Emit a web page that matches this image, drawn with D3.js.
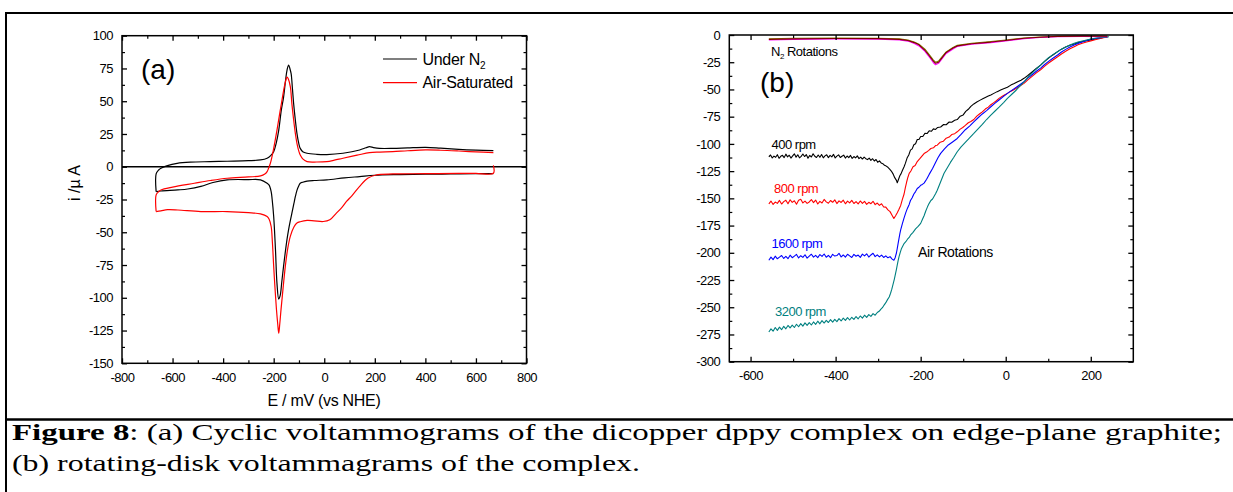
<!DOCTYPE html>
<html>
<head>
<meta charset="utf-8">
<script src="https://cdnjs.cloudflare.com/ajax/libs/d3/7.8.5/d3.min.js"></script>
<style>
  body { margin: 0; background: #fff; }
  svg { display: block; }
  .sans { font-family: "Liberation Sans", Arial, Helvetica, sans-serif; }
</style>
</head>
<body>
<div id="chart"></div>
<script>
// ---- panel (a): cyclic voltammograms, [E mV, i uA] ----
const cvN2Forward = [[-665,-19],[-665,-5.5],[-655,-2.5],[-646,-1.2],[-620,0.9],[-582,2.6],[-530,3.5],[-450,3.9],[-384,4.2],[-300,4.6],[-252,5.2],[-226,6.5],[-212,8.5],[-200,11.5],[-190,18],[-180,28],[-170,43],[-161,53],[-153,66],[-147,74],[-141,77.6],[-136,75],[-131,71],[-126,60],[-121,48],[-114,35],[-108,25.5],[-101,18],[-95,14],[-85,11.5],[-68,10.3],[-30,9.5],[10,9.3],[74,10.3],[140,12.8],[165,14.5],[179,15.3],[195,14.6],[218,14],[271,14],[330,14.4],[401,14.8],[460,14.2],[532,13.3],[600,12.7],[669,12.3]];
const cvN2Reverse = [[669,-5.2],[600,-5.3],[500,-5.5],[400,-5.7],[300,-6],[200,-6.5],[140,-7.5],[80,-8.5],[10,-10],[-40,-10.5],[-68,-11],[-85,-11.8],[-95,-12.6],[-102,-15],[-108,-18],[-114,-22.5],[-120,-28],[-127,-34.5],[-134,-41],[-141,-48],[-147,-55],[-154,-65],[-161,-76],[-168,-88],[-174,-98],[-180,-101],[-187,-89],[-193,-63],[-200,-38],[-206,-25],[-210,-19],[-218,-14],[-226,-12.6],[-252,-10],[-300,-9.8],[-384,-10],[-440,-12],[-488,-15],[-540,-17],[-579,-17.7],[-646,-18.5],[-665,-19]];
const cvAirForward = [[-665,-34.2],[-665,-21.5],[-655,-19],[-646,-17.7],[-600,-15.5],[-514,-12.6],[-450,-10.5],[-384,-8.8],[-300,-7.8],[-252,-7],[-235,-5.5],[-226,-3.7],[-220,-1],[-213,2.7],[-200,14],[-187,28],[-175,42],[-167,51],[-158,61],[-150,67.4],[-147,68.5],[-142,67],[-134,61],[-128,48],[-121,35.7],[-114,25],[-108,17.9],[-100,11.5],[-95,9],[-85,6],[-68,3.9],[-30,3.6],[10,3.9],[40,5],[74,6.5],[130,8.8],[179,10.8],[220,11.2],[271,11.5],[330,12.2],[401,12.8],[460,12.6],[532,12],[600,11.3],[669,10.8]];
const cvAirReverse = [[669,1],[669,-5],[600,-5],[532,-5],[400,-5.3],[271,-5.5],[205,-6.3],[172,-8.8],[140,-15],[110,-22],[88,-26.5],[70,-31],[48,-35.4],[22,-40.5],[-4,-41.8],[-40,-41.3],[-68,-41],[-95,-42],[-108,-43],[-120,-46],[-134,-53],[-145,-63],[-154,-76],[-163,-93],[-171,-109],[-176,-120],[-180,-127],[-184,-120],[-189,-109],[-195,-92],[-200,-76],[-205,-58],[-210,-45.6],[-218,-40],[-226,-38],[-252,-36],[-300,-35],[-384,-34.2],[-488,-34.2],[-579,-33],[-620,-32.8],[-646,-33.7],[-665,-34.2]];

const aXTicks = [-800,-600,-400,-200,0,200,400,600,800];
const aYTicks = [-150,-125,-100,-75,-50,-25,0,25,50,75,100];

// ---- panel (b): rotating-disk voltammograms ----
const n2DarkRed = [[-557,-4],[-500,-3.6],[-400,-3.2],[-300,-3.3],[-250,-4],[-230,-5],[-215,-7],[-204,-9],[-190,-14],[-178,-20],[-170,-24],[-165,-26],[-158,-25],[-150,-21],[-140,-16],[-124,-12],[-114,-10],[-80,-8],[-35,-6.5],[0,-5],[43,-3],[80,-2],[122,-1.3],[180,-1],[239,-1.2]];
const n2Magenta = [[-557,-4.6],[-500,-4],[-400,-3.6],[-300,-3.8],[-250,-4.5],[-230,-5.6],[-215,-7.8],[-204,-10],[-190,-15],[-178,-21],[-170,-25.5],[-165,-27.3],[-158,-26],[-150,-22],[-140,-17],[-124,-12.8],[-114,-10.6],[-80,-8.5],[-35,-7],[0,-5.4],[43,-3.4],[80,-2.3],[122,-1.6],[180,-1.4],[239,-1.6]];
const n2Olive = [[-557,-3.4],[-500,-3],[-400,-2.8],[-300,-3],[-250,-3.6],[-230,-4.6],[-215,-6.5],[-204,-8.5],[-190,-13],[-178,-19],[-170,-23],[-165,-25],[-158,-24],[-150,-20],[-140,-15.5],[-124,-11.5],[-114,-9.5],[-80,-7.6],[-35,-6],[0,-4.6],[43,-2.7],[80,-1.8],[122,-1.1],[180,-0.8],[239,-1]];

const rpm400 = [[-557,-111.8],[-553,-110.2],[-549,-112.9],[-545,-111.2],[-541,-112.3],[-537,-109.9],[-533,-113.2],[-529,-111.4],[-525,-110.5],[-521,-112.6],[-517,-109.4],[-513,-111.9],[-509,-110.4],[-505,-113],[-501,-111],[-497,-109.1],[-493,-112.2],[-489,-110],[-485,-112.8],[-481,-111.5],[-477,-109.3],[-473,-111.6],[-469,-109.8],[-465,-113.1],[-461,-110.6],[-457,-112],[-453,-109],[-449,-111.4],[-445,-112.5],[-441,-110.2],[-437,-112.3],[-433,-109.7],[-429,-112.8],[-425,-111],[-421,-110],[-417,-112.6],[-413,-110.6],[-409,-111.9],[-405,-109.6],[-401,-112.9],[-397,-111.2],[-393,-110.1],[-389,-112.5],[-385,-111.4],[-381,-110.3],[-377,-113],[-373,-111.1],[-369,-112.6],[-365,-110.6],[-361,-113.3],[-357,-111.6],[-353,-112.8],[-349,-111],[-345,-113.5],[-341,-112.1],[-337,-113.9],[-333,-112.2],[-329,-113.6],[-325,-114.4],[-321,-113],[-317,-115.1],[-313,-113.6],[-309,-115.7],[-305,-114.3],[-301,-116.9],[-297,-115.6],[-293,-117.5],[-289,-118.2],[-285,-119.7],[-281,-120.4],[-277,-121.5],[-273,-123.1],[-269,-124.9],[-265,-127.5],[-261,-131],[-257,-133.5],[-255,-135.7],[-252,-132.5],[-249,-129.2],[-246,-127.3],[-243,-124.4],[-239,-121],[-236,-117.9],[-232,-113],[-228,-110.2],[-224,-105.7],[-220,-104.6],[-216,-100.8],[-212,-99.9],[-208,-96],[-204,-96],[-200,-93.2],[-195,-93.2],[-190,-90.3],[-185,-90.5],[-180,-88],[-175,-88.4],[-170,-86.2],[-165,-86.7],[-160,-84.9],[-153,-84.5],[-146,-82.2],[-140,-82.4],[-133,-79.9],[-127,-80.1],[-120,-78.3],[-114,-77.6],[-107,-74.6],[-100,-73.4],[-94,-70.1],[-88,-68.2],[-82,-65.5],[-75,-63.3],[-68,-61.5],[-60,-59.8],[-54,-58.6],[-48,-57.4],[-41,-56.1],[-35,-55],[-28,-53.6],[-20,-52],[-12,-50.6],[-5,-49.4],[4,-48],[12,-46],[20,-44.6],[28,-43],[36,-41.5],[43,-39.8],[52,-37.2],[62,-34],[72,-30.8],[82,-27.6],[91,-24.4],[100,-21.5],[111,-18.3],[122,-15.3],[131,-13],[141,-11],[151,-9.5],[161,-8.3],[170,-7],[180,-6],[190,-5.2],[200,-4.6],[210,-3.6],[220,-3],[230,-2.3],[239,-1.8]];
const rpm800 = [[-557,-155],[-552,-152.5],[-547,-155.6],[-542,-153.4],[-537,-154.6],[-532,-151.9],[-527,-155.2],[-522,-153],[-517,-151.7],[-512,-154.9],[-507,-151.3],[-502,-153.7],[-497,-152.2],[-492,-155.4],[-487,-151.8],[-482,-150.9],[-477,-154.2],[-472,-152.5],[-467,-154.6],[-462,-153.3],[-457,-151.1],[-452,-153.9],[-447,-151.6],[-442,-155.2],[-437,-152.8],[-432,-154.3],[-427,-151],[-422,-153.2],[-417,-154.5],[-412,-152],[-407,-153.6],[-402,-151.4],[-397,-154.8],[-392,-152.3],[-387,-153.8],[-382,-151.7],[-377,-155],[-372,-152.5],[-367,-154.2],[-362,-151.9],[-357,-154.7],[-352,-153],[-347,-155.1],[-342,-152.4],[-337,-154.6],[-332,-152.8],[-327,-155.5],[-322,-153.6],[-317,-154.9],[-312,-152.7],[-307,-155.8],[-302,-154.3],[-297,-156.5],[-292,-155],[-287,-157.9],[-282,-158.1],[-277,-160.6],[-272,-162.2],[-267,-165.7],[-263,-168.5],[-259,-166],[-255,-163.2],[-251,-160],[-247,-156.5],[-243,-151],[-239,-146],[-236,-140.2],[-233,-135],[-230,-130.6],[-227,-127],[-223,-124.9],[-218,-121],[-213,-119.8],[-208,-116.2],[-202,-113.6],[-197,-111.2],[-192,-108.9],[-186,-107.5],[-181,-105.9],[-176,-104.2],[-170,-103.6],[-165,-101.5],[-161,-101.2],[-154,-98.4],[-147,-97.6],[-140,-94.8],[-133,-93.7],[-127,-91.4],[-120,-90.6],[-114,-88.9],[-107,-86.4],[-101,-84.9],[-95,-83],[-88,-80.6],[-82,-79.4],[-75,-77.6],[-68,-74.5],[-61,-72.3],[-55,-70.6],[-48,-68],[-41,-66.2],[-35,-64],[-28,-62.1],[-22,-60.4],[-15,-58],[-8,-56.2],[-2,-54.8],[4,-53.6],[11,-51.8],[18,-50.4],[25,-49],[34,-46.6],[43,-44.4],[52,-41.2],[62,-38],[72,-34.8],[82,-31.9],[91,-28.8],[100,-26],[111,-22.9],[122,-20],[131,-17.4],[141,-15],[151,-12.7],[161,-10.7],[170,-9],[180,-7.5],[190,-6.4],[200,-5.4],[210,-4.3],[220,-3.4],[230,-2.5],[239,-1.8]];
const rpm1600 = [[-557,-206.8],[-552,-204],[-547,-206.3],[-542,-203.1],[-537,-205.5],[-532,-204],[-527,-202.5],[-522,-205.2],[-517,-203.3],[-512,-205.4],[-507,-202.2],[-502,-204.5],[-497,-203],[-492,-201.5],[-487,-204.7],[-482,-202.7],[-477,-204.2],[-472,-201.8],[-467,-204.9],[-462,-203.1],[-457,-201.3],[-452,-204],[-447,-202.4],[-442,-204.4],[-437,-201.6],[-432,-203.3],[-427,-201.1],[-422,-204.1],[-417,-202.3],[-412,-204.5],[-407,-201.4],[-402,-203],[-397,-202.5],[-392,-200.5],[-387,-203.8],[-382,-202],[-377,-204],[-372,-201.3],[-367,-202.8],[-362,-204.3],[-357,-201.5],[-352,-203.2],[-347,-202.1],[-342,-204.2],[-337,-201.2],[-332,-202.9],[-327,-200.9],[-322,-203.9],[-317,-202],[-312,-200.4],[-307,-203.5],[-302,-201.9],[-297,-203.8],[-292,-202.2],[-287,-204.3],[-282,-202.8],[-277,-204.6],[-272,-203.5],[-267,-205.8],[-263,-206.8],[-260,-204.5],[-257,-200.2],[-255,-196],[-253,-191.4],[-251,-187],[-249,-182.6],[-247,-179],[-243,-173.2],[-239,-168],[-235,-163.1],[-231,-159],[-227,-155.6],[-224,-152],[-220,-149.4],[-216,-146],[-212,-143.8],[-208,-141],[-204,-139.8],[-200,-138],[-196,-137.2],[-192,-136],[-186,-132.4],[-180,-128],[-172,-122.6],[-165,-117],[-159,-112.5],[-153,-108.7],[-144,-104.6],[-135,-101],[-125,-98.2],[-114,-95],[-105,-91.3],[-95,-87],[-85,-83.6],[-75,-79.7],[-65,-76],[-55,-72.5],[-45,-69.4],[-35,-65.9],[-25,-62.6],[-15,-59.5],[-5,-56.4],[4,-53.6],[15,-50.6],[25,-48],[34,-45.4],[43,-43],[52,-39.6],[62,-36.5],[72,-33.3],[82,-30.4],[91,-27.3],[100,-24.5],[111,-21.3],[122,-18.4],[131,-15.6],[141,-13.2],[151,-11],[161,-9.2],[170,-7.7],[180,-6.5],[190,-5.1],[200,-4],[210,-3.2],[220,-2.6],[230,-2.1],[239,-1.8]];
const rpm3200 = [[-557,-272.7],[-552,-269.9],[-547,-272],[-542,-268.6],[-537,-271.2],[-532,-268.3],[-527,-270.6],[-522,-267.5],[-517,-269.8],[-512,-266.7],[-507,-269],[-502,-266.4],[-497,-268.6],[-492,-265.6],[-487,-267.9],[-482,-265],[-477,-267.3],[-472,-264.4],[-467,-266.7],[-462,-264.1],[-457,-266.3],[-452,-263.5],[-447,-265.7],[-442,-262.8],[-437,-265.2],[-432,-262.3],[-427,-264.5],[-422,-262],[-417,-264],[-412,-261.4],[-407,-263.7],[-402,-261.1],[-397,-263.2],[-392,-260.5],[-387,-262.6],[-382,-260],[-377,-262.1],[-372,-259.5],[-367,-261.7],[-362,-259.2],[-357,-261.2],[-352,-258.5],[-347,-260.6],[-342,-258],[-337,-260],[-332,-257.3],[-327,-259.3],[-322,-256.7],[-317,-258.4],[-312,-255.9],[-307,-257.3],[-302,-254.8],[-297,-253.5],[-294,-252],[-290,-250.4],[-286,-248],[-282,-245.8],[-278,-243],[-274,-240.6],[-271,-237.4],[-268,-233.6],[-265,-229],[-262,-224.4],[-259,-219],[-257,-215.2],[-255,-211],[-253,-207.1],[-251,-203.8],[-248,-199.6],[-245,-196],[-242,-193.8],[-239,-191.5],[-235,-189.8],[-231,-187.5],[-227,-185.9],[-224,-183.8],[-218,-181.2],[-212,-178],[-206,-175.8],[-200,-173],[-196,-169.4],[-192,-166],[-188,-161.6],[-184,-157.8],[-180,-154.6],[-176,-152],[-172,-150.6],[-169,-148.6],[-165,-145.8],[-161,-142.5],[-153,-134.8],[-145,-127],[-138,-122.4],[-130,-117],[-122,-112.3],[-114,-107.2],[-105,-102.8],[-95,-98.5],[-85,-94.4],[-75,-90.4],[-65,-86.1],[-55,-82],[-45,-77.6],[-35,-73.5],[-25,-69.8],[-15,-66],[-5,-62],[4,-58.2],[15,-54.2],[25,-50.5],[34,-46.8],[43,-43],[52,-38.9],[62,-35],[72,-31.2],[82,-27.6],[91,-24.2],[100,-21],[111,-18],[122,-15.3],[131,-13],[141,-11],[151,-9.2],[161,-7.7],[170,-6.5],[180,-5.5],[190,-4.6],[200,-3.7],[210,-3],[220,-2.5],[232,-2],[243,-1.6]];

const bXTicks = [-600,-400,-200,0,200];
const bYTicks = [-300,-275,-250,-225,-200,-175,-150,-125,-100,-75,-50,-25,0];

const W = 1233, H = 492;

// pick the first installed Times-like face for the caption
function pickFont(candidates, fallback) {
  const ctx = document.createElement("canvas").getContext("2d");
  const probe = "Figure 8: rotating-disk voltammagrams";
  ctx.font = "40px monospace";
  const base = ctx.measureText(probe).width;
  for (const f of candidates) {
    ctx.font = `40px "${f}", monospace`;
    if (Math.abs(ctx.measureText(probe).width - base) > 0.5) return `"${f}"`;
  }
  return fallback;
}
const serifFont = pickFont(["Liberation Serif", "Times New Roman", "Tinos", "Nimbus Roman",
  "Nimbus Roman No9 L", "FreeSerif", "Noto Serif", "Times"], "serif");

const svg = d3.select("#chart").append("svg").attr("width", W).attr("height", H);
svg.append("rect").attr("width", W).attr("height", H).attr("fill", "#fff");

// outer frame and caption separator
svg.append("rect").attr("x", 6).attr("y", 13).attr("width", W + 10).attr("height", H + 10)
  .attr("fill", "none").attr("stroke", "#000").attr("stroke-width", 2);
svg.append("line").attr("x1", 6).attr("x2", W).attr("y1", 419.5).attr("y2", 419.5)
  .attr("stroke", "#000").attr("stroke-width", 2.5);

function minorValues(major, step) {
  const out = [];
  for (let i = 0; i < major.length - 1; i++) out.push(major[i] + step);
  return out;
}

// draw a framed plot with inward ticks on all four sides
function drawFrame(x, y, xTicks, yTicks, xMinor, yMinor) {
  const g = svg.append("g");
  const [x0, x1] = x.range(), [y0, y1] = y.range();
  const axes = [
    [d3.axisBottom(x), `translate(0,${y0})`, xTicks, xMinor, true],
    [d3.axisTop(x), `translate(0,${y1})`, xTicks, xMinor, false],
    [d3.axisLeft(y), `translate(${x0},0)`, yTicks, yMinor, true],
    [d3.axisRight(y), `translate(${x1},0)`, yTicks, yMinor, false],
  ];
  axes.forEach(([ax, tr, major, minor, labels]) => {
    const gm = g.append("g").attr("transform", tr)
      .call(ax.tickValues(major).tickSize(-5).tickPadding(labels ? 9 : 0)
        .tickFormat(labels ? (d => String(d)) : ""));
    gm.attr("font-family", null).attr("font-size", null);
    gm.select(".domain").remove();
    gm.selectAll("line").attr("stroke-width", 1.3);
    gm.selectAll("text").attr("class", "sans").style("font-size", "13px")
      .attr("letter-spacing", -0.5).attr("fill", "#000");
    const gn = g.append("g").attr("transform", tr)
      .call(ax.tickValues(minor).tickSize(-3).tickFormat(""));
    gn.select(".domain").remove();
    gn.selectAll("line").attr("stroke-width", 1.2);
  });
  g.append("rect").attr("x", x0).attr("y", y1).attr("width", x1 - x0).attr("height", y0 - y1)
    .attr("fill", "none").attr("stroke", "#000").attr("stroke-width", 1.5);
  return g;
}

function label(x, y, size, txt) {
  return svg.append("text").attr("class", "sans").attr("x", x).attr("y", y)
    .style("font-size", size + "px").text(txt);
}

// ---------- panel (a) ----------
const xa = d3.scaleLinear().domain([-800, 800]).range([122, 526.5]);
const ya = d3.scaleLinear().domain([-150, 100]).range([363.3, 35.7]);

svg.append("line").attr("x1", xa(-800)).attr("x2", xa(800)).attr("y1", ya(0)).attr("y2", ya(0))
  .attr("stroke", "#000").attr("stroke-width", 1.6);

const lineA = d3.line().x(d => xa(d[0])).y(d => ya(d[1])).curve(d3.curveCatmullRom.alpha(0.5));
[[cvN2Forward, "#000"], [cvN2Reverse, "#000"], [cvAirForward, "#ff0000"], [cvAirReverse, "#ff0000"]]
  .forEach(([data, c]) => {
    svg.append("path").datum(data).attr("fill", "none").attr("stroke", c)
      .attr("stroke-width", 1.2).attr("d", lineA);
  });

drawFrame(xa, ya, aXTicks, aYTicks, minorValues(aXTicks, 100), minorValues(aYTicks, 12.5));

label(324, 406, 16, "E / mV (vs NHE)").attr("text-anchor", "middle").attr("letter-spacing", -0.3);
svg.append("text").attr("class", "sans").attr("transform", "translate(80,183) rotate(-90)")
  .attr("text-anchor", "middle").style("font-size", "16px").text("i /\u00b5 A");
label(141, 79, 28, "(a)");

// legend
const legend = [["Under N", "2", "#000", 59], ["Air-Saturated", "", "#ff0000", 82.7]];
legend.forEach(([txt, sub, c, ly]) => {
  svg.append("line").attr("x1", 383).attr("x2", 417).attr("y1", ly).attr("y2", ly)
    .attr("stroke", c).attr("stroke-width", 1.2);
  const t = label(422.5, ly + 5.5, 16, txt).attr("letter-spacing", -0.3);
  if (sub) t.append("tspan").style("font-size", "10px").attr("dy", 4).text(sub);
});

// ---------- panel (b) ----------
const xb = d3.scaleLinear().domain([-650, 300]).range([729.3, 1133.3]);
const yb = d3.scaleLinear().domain([-300, 0]).range([361.7, 35]);
const lineB = d3.line().x(d => xb(d[0])).y(d => yb(d[1]));

[[rpm400, "#000"], [rpm800, "#ff0000"], [rpm1600, "#0000ff"], [rpm3200, "#008080"],
 [n2Olive, "#808000"], [n2Magenta, "#ff00ff"], [n2DarkRed, "#800000"]]
  .forEach(([data, c]) => {
    svg.append("path").datum(data).attr("fill", "none").attr("stroke", c)
      .attr("stroke-width", 1.1).attr("stroke-linejoin", "round").attr("d", lineB);
  });

drawFrame(xb, yb, bXTicks, bYTicks, minorValues(bXTicks, 100), minorValues(bYTicks, 12.5));

label(760, 92, 28, "(b)");
const n2Label = label(771, 55.5, 13, "N").attr("letter-spacing", -0.5);
n2Label.append("tspan").style("font-size", "8px").attr("dy", 3).text("2");
n2Label.append("tspan").attr("dy", -3).text(" Rotations");

const rpmLabels = [["400 rpm", "#000", 771.5, 149.3], ["800 rpm", "#ff0000", 774, 193.3],
  ["1600 rpm", "#0000ff", 771.5, 248.3], ["3200 rpm", "#008080", 775, 316]];
rpmLabels.forEach(([t, c, lx, ly]) => {
  label(lx, ly, 13, t).attr("fill", c).attr("letter-spacing", -0.5);
});
label(918, 257.3, 14, "Air Rotations").attr("letter-spacing", -0.4);

// ---------- caption ----------
const cap1 = svg.append("text").style("font-family", serifFont).attr("x", 12).attr("y", 440)
  .style("font-size", "23px").attr("textLength", 1210).attr("lengthAdjust", "spacingAndGlyphs");
cap1.append("tspan").attr("font-weight", "bold").text("Figure 8");
cap1.append("tspan").text(": (a) Cyclic voltammograms of the dicopper dppy complex on edge-plane graphite;");
svg.append("text").style("font-family", serifFont).attr("x", 12).attr("y", 471)
  .style("font-size", "23px").attr("textLength", 628).attr("lengthAdjust", "spacingAndGlyphs")
  .text("(b) rotating-disk voltammagrams of the complex.");
</script>
</body>
</html>
